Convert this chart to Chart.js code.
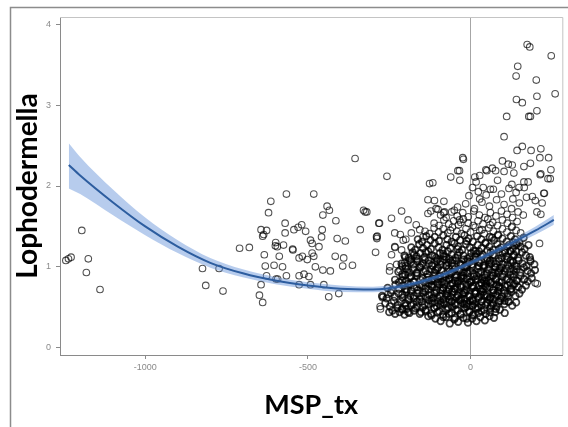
<!DOCTYPE html>
<html>
<head>
<meta charset="utf-8">
<script src="https://cdn.jsdelivr.net/npm/chart.js@4.4.1/dist/chart.umd.min.js"></script>
<style>
  html, body { margin: 0; padding: 0; background: #fff; }
  #wrap { width: 568px; height: 427px; }
</style>
</head>
<body>
<div id="wrap"><canvas id="chart" width="568" height="427"></canvas></div>
<script>
// tick labels
const xTicks = [-1000, -500, 0];
const yTicks = [0, 1, 2, 3, 4];

// fitted curve with its confidence band
const fitX    = [-1235, -1200, -1100, -1000, -900, -800, -700, -600, -500, -400, -300, -200, -100, 0, 100, 200, 256];
const fitY    = [2.26, 2.13, 1.80, 1.50, 1.25, 1.05, 0.92, 0.83, 0.77, 0.73, 0.72, 0.77, 0.88, 1.05, 1.24, 1.45, 1.58];
const fitLow  = [1.97, 1.90, 1.64, 1.39, 1.17, 0.99, 0.87, 0.785, 0.73, 0.69, 0.685, 0.74, 0.85, 1.02, 1.205, 1.40, 1.52];
const fitHigh = [2.53, 2.36, 1.96, 1.61, 1.33, 1.11, 0.97, 0.875, 0.81, 0.77, 0.755, 0.80, 0.91, 1.08, 1.275, 1.50, 1.64];

// observations [MSP_tx, Lophodermella]
const farLeftPts = [[-1244,1.08],[-1236,1.10],[-1228,1.12],[-1195,1.45],[-1175,1.10],[-1181,0.93],[-1139,0.72],
  [-824,0.98],[-773,0.98],[-814,0.77],[-761,0.70],[-710,1.23],[-680,1.24]];

const midPts = [[-614,1.81],[-566,1.90],[-482,1.90],[-621,1.67],[-570,1.54],[-441,1.75],[-434,1.70],[-454,1.64],
  [-414,1.57],[-355,2.34],[-329,1.70],[-319,1.68],[-339,1.46],[-289,1.37],[-644,1.46],[-627,1.45],[-639,1.38],
  [-599,1.30],[-594,1.25],[-634,1.15],[-588,1.13],[-570,1.42],[-543,1.46],[-530,1.49],[-519,1.52],[-507,1.44],
  [-492,1.33],[-487,1.29],[-466,1.25],[-456,1.46],[-458,1.37],[-410,1.35],[-385,1.32],[-546,1.21],[-527,1.11],
  [-517,1.13],[-502,1.09],[-487,1.17],[-482,1.13],[-416,1.13],[-390,1.11],[-393,1.01],[-363,1.02],[-477,1.00],
  [-454,0.96],[-431,0.95],[-631,1.01],[-604,1.02],[-578,1.00],[-627,0.89],[-598,0.85],[-566,0.89],[-527,0.89],
  [-512,0.91],[-497,0.88],[-644,0.78],[-593,0.85],[-527,0.78],[-492,0.78],[-451,0.78],[-649,0.65],[-639,0.56],
  [-436,0.63],[-405,0.67],[-292,1.18],[-575,1.27],[-547,1.22],[-600,1.26],[-636,1.40]];

const nearPts = [[-257,2.12],[-126,2.03],[-116,2.04],[-324,1.68],[-212,1.69],[-131,1.83],[-82,1.81],[-280,1.54],
  [-243,1.60],[-287,1.38],[-233,1.42],[-207,1.33],[-182,1.42],[-156,1.46],[-146,1.37],[-192,1.58],[-167,1.52],
  [-131,1.66],[-106,1.72],[-80,1.68],[-50,1.70],[-34,1.58],[-233,1.25],[-212,1.21],[-243,1.15],[-248,1.00],
  [-217,0.96],[-202,1.05],[-182,1.09],[-268,0.63],[-278,0.51],[-243,0.55],[-271,0.62],[-277,0.48],[-254,0.66],
  [-249,0.95],[-227,1.03],[-216,1.40],[-199,1.34],[-111,1.82],[-122,1.69],[-83,1.67],[-100,1.71],[-39,2.19],
  [-22,2.33],[-33,2.07],[-61,2.11],[-288,1.35],[-232,1.24],[-282,1.54]];

const upperPts = [[174,3.75],[182,3.72],[248,3.61],[145,3.48],[140,3.36],[202,3.31],[260,3.14],[204,3.11],
  [141,3.07],[159,3.03],[204,2.93],[184,2.86],[179,2.86],[111,2.86],[103,2.61],[159,2.49],[143,2.44],[186,2.44],
  [216,2.46],[240,2.35],[213,2.35],[98,2.31],[128,2.26],[164,2.24],[184,2.28],[-24,2.35],[-34,2.19],[47,2.20],
  [67,2.22],[103,2.18],[133,2.16],[13,2.11],[247,2.20],[214,2.14],[245,2.09],[164,2.05],[225,1.91],[204,1.68],
  [220,1.79],[212,1.29],[184,1.09],[199,0.80],[164,0.84],[143,0.76],[118,0.57],[227,1.91],[199,1.82],[216,1.65],
  [177,2.05],[149,1.98],[127,2.02],[83,2.07],[61,1.96],[28,1.84],[39,1.98],[6,1.98],[17,2.05],[28,2.13],
  [50,2.19],[77,2.19],[116,2.27],[205,0.79],[238,2.09],[216,2.15]];

const clusterLow = [[-108,0.36],[-92,0.33],[-75,0.38],[-64,0.30],[-50,0.35],[-38,0.32],[-22,0.37],[-8,0.31],
  [5,0.36],[18,0.33],[30,0.38],[44,0.34],[58,0.39],[-130,0.39],[72,0.37],
  [-240,0.46],[-232,0.42],[-225,0.49],[-218,0.44],[-210,0.47],[-203,0.41],[-196,0.48],[-188,0.43],[-170,0.49],
  [-152,0.44],[-138,0.47],[-121,0.42],[-112,0.49],[-97,0.45],[-85,0.41],[-70,0.48],[-58,0.43],[-45,0.47],
  [-31,0.42],[-17,0.49],[-4,0.44],[9,0.41],[21,0.48],[34,0.45],[47,0.42],[61,0.49],[76,0.44],[90,0.47],
  [105,0.43],[-250,0.44],
  [-262,0.55],[-248,0.51],[-236,0.58],[-224,0.53],[-214,0.57],[-200,0.52],[-190,0.59],[-176,0.54],[-165,0.51],
  [-150,0.57],[-141,0.53],[-128,0.59],[-117,0.55],[-104,0.51],[-93,0.58],[-81,0.54],[-69,0.50],[-57,0.57],
  [-46,0.53],[-35,0.59],[-24,0.55],[-12,0.51],[-2,0.58],[11,0.54],[23,0.50],[35,0.57],[46,0.53],[57,0.59],
  [68,0.55],[80,0.51],[92,0.58],[104,0.54],[116,0.57],[128,0.52],[140,0.56],[-18,0.60],[6,0.52],[63,0.52]];

const clusterMid = [[-272,0.64],[-258,0.61],[-245,0.68],[-233,0.63],[-221,0.67],[-209,0.62],[-197,0.69],
  [-185,0.64],[-174,0.61],[-162,0.67],[-151,0.63],[-139,0.69],[-127,0.65],[-116,0.61],[-105,0.68],[-94,0.64],
  [-83,0.60],[-72,0.67],[-61,0.63],[-50,0.69],[-39,0.65],[-28,0.61],[-17,0.68],[-6,0.64],[5,0.60],[16,0.67],
  [27,0.63],[38,0.69],[49,0.65],[60,0.61],[71,0.68],[82,0.64],[93,0.61],[104,0.67],[115,0.63],[126,0.69],
  [138,0.64],[150,0.67],[-44,0.62],[31,0.66],
  [-255,0.74],[-243,0.71],[-231,0.78],[-220,0.73],[-208,0.77],[-196,0.72],[-185,0.79],[-173,0.74],[-162,0.71],
  [-150,0.77],[-139,0.73],[-128,0.79],[-117,0.75],[-106,0.71],[-95,0.78],[-84,0.74],[-73,0.70],[-62,0.77],
  [-51,0.73],[-40,0.79],[-29,0.75],[-18,0.71],[-7,0.78],[4,0.74],[15,0.70],[26,0.77],[37,0.73],[48,0.79],
  [59,0.75],[70,0.71],[81,0.78],[92,0.74],[103,0.71],[114,0.77],[125,0.73],[136,0.79],[147,0.75],[158,0.72],
  [170,0.77],[-66,0.72],[9,0.76],[88,0.76],
  [-232,0.84],[-220,0.81],[-209,0.88],[-198,0.83],[-187,0.87],[-176,0.82],[-165,0.89],[-154,0.84],[-143,0.81],
  [-132,0.87],[-121,0.83],[-110,0.89],[-99,0.85],[-88,0.81],[-77,0.88],[-66,0.84],[-55,0.80],[-44,0.87],
  [-33,0.83],[-22,0.89],[-11,0.85],[0,0.81],[11,0.88],[22,0.84],[33,0.80],[44,0.87],[55,0.83],[66,0.89],
  [77,0.85],[88,0.81],[99,0.88],[110,0.84],[121,0.81],[132,0.87],[143,0.83],[154,0.89],[165,0.85],[176,0.82],
  [188,0.86],[-100,0.82],[-27,0.86],[48,0.82],
  [-222,0.94],[-210,0.91],[-199,0.98],[-188,0.93],[-177,0.97],[-166,0.92],[-155,0.99],[-144,0.94],[-133,0.91],
  [-122,0.97],[-111,0.93],[-100,0.99],[-89,0.95],[-78,0.91],[-67,0.98],[-56,0.94],[-45,0.90],[-34,0.97],
  [-23,0.93],[-12,0.99],[-1,0.95],[10,0.91],[21,0.98],[32,0.94],[43,0.90],[54,0.97],[65,0.93],[76,0.99],
  [87,0.95],[98,0.91],[109,0.98],[120,0.94],[131,0.91],[142,0.97],[153,0.93],[164,0.99],[175,0.95],[186,0.92],
  [198,0.96],[-60,0.92]];

const clusterHigh = [[-212,1.04],[-200,1.01],[-188,1.08],[-176,1.03],[-164,1.07],[-152,1.02],[-140,1.09],
  [-128,1.04],[-116,1.01],[-104,1.07],[-92,1.03],[-80,1.09],[-68,1.05],[-56,1.01],[-44,1.08],[-32,1.04],
  [-20,1.00],[-8,1.07],[4,1.03],[16,1.09],[28,1.05],[40,1.01],[52,1.08],[64,1.04],[76,1.00],[88,1.07],
  [100,1.03],[112,1.09],[124,1.05],[136,1.01],[148,1.08],[160,1.04],[172,1.01],[184,1.07],[196,1.03],
  [-26,1.02],[58,1.06],[130,1.06],
  [-203,1.14],[-190,1.11],[-178,1.18],[-166,1.13],[-154,1.17],[-142,1.12],[-130,1.19],[-118,1.14],[-106,1.11],
  [-94,1.17],[-82,1.13],[-70,1.19],[-58,1.15],[-46,1.11],[-34,1.18],[-22,1.14],[-10,1.10],[2,1.17],[14,1.13],
  [26,1.19],[38,1.15],[50,1.11],[62,1.18],[74,1.14],[86,1.10],[98,1.17],[110,1.13],[122,1.19],[134,1.15],
  [146,1.11],[158,1.18],[170,1.14],[182,1.12],[-75,1.12],[18,1.16],
  [-182,1.24],[-170,1.21],[-158,1.28],[-146,1.23],[-134,1.27],[-122,1.22],[-110,1.29],[-98,1.24],[-86,1.21],
  [-74,1.27],[-62,1.23],[-50,1.29],[-38,1.25],[-26,1.21],[-14,1.28],[-2,1.24],[10,1.20],[22,1.27],[34,1.23],
  [46,1.29],[58,1.25],[70,1.21],[82,1.28],[94,1.24],[106,1.20],[118,1.27],[130,1.23],[142,1.29],[154,1.25],
  [166,1.22],[178,1.27],[-40,1.22],
  [-162,1.34],[-149,1.31],[-136,1.38],[-123,1.33],[-110,1.37],[-97,1.32],[-84,1.39],[-71,1.34],[-58,1.31],
  [-45,1.37],[-32,1.33],[-19,1.39],[-6,1.35],[7,1.31],[20,1.38],[33,1.34],[46,1.30],[59,1.37],[72,1.33],
  [85,1.39],[98,1.35],[111,1.31],[124,1.38],[137,1.34],[150,1.30],[163,1.36],[-12,1.32],[66,1.36]];

const clusterTop = [[-140,1.44],[-126,1.41],[-112,1.48],[-98,1.43],[-84,1.47],[-70,1.42],[-56,1.49],[-42,1.44],
  [-28,1.41],[-14,1.47],[0,1.43],[14,1.49],[28,1.45],[42,1.41],[56,1.48],[70,1.44],[84,1.40],[98,1.47],
  [112,1.43],[126,1.49],[140,1.45],[154,1.42],[-62,1.45],[35,1.46],
  [-112,1.54],[-97,1.51],[-82,1.58],[-67,1.53],[-52,1.57],[-37,1.52],[-22,1.59],[-7,1.54],[8,1.51],[23,1.57],
  [38,1.53],[53,1.59],[68,1.55],[83,1.51],[98,1.58],[113,1.54],[128,1.50],[143,1.56],[-30,1.55],[60,1.52],
  [-92,1.64],[-75,1.61],[-58,1.68],[-41,1.63],[-24,1.67],[-7,1.62],[10,1.69],[27,1.64],[44,1.61],[61,1.67],
  [78,1.63],[95,1.69],[112,1.65],[129,1.61],[146,1.68],[162,1.64],
  [-40,1.74],[-15,1.78],[12,1.72],[35,1.80],[58,1.75],[80,1.83],[103,1.77],[126,1.72],[150,1.79],[172,1.86],
  [-5,1.88],[24,1.93],[48,1.89],[70,1.96],[95,1.90],[118,1.97],[140,1.92],[165,1.98],[190,1.87],[130,1.84]];

const clusterCore = [[-115,0.62],[-98,0.88],[-86,0.71],[-73,1.02],[-59,0.57],[-47,0.83],[-36,0.95],[-25,0.66],
  [-13,0.77],[-3,1.06],[8,0.58],[19,0.89],[29,0.72],[41,0.99],[52,0.63],[64,0.81],[75,0.93],[-108,0.96],
  [-91,0.55],[-66,0.86],[-41,0.74],[-19,0.54],[-9,0.92],[14,0.69],[36,0.85],[57,1.03],[70,0.60],[-80,0.79],
  [-55,1.08],[-30,0.88],[2,0.82],[25,1.01],[46,0.76],[-120,0.78],[-102,1.09],[84,0.70],[90,0.98],[-70,0.64],
  [-16,1.00],[33,0.57]];

const clusterDense = [
  [-210,0.48],[-210,0.66],[-210,0.83],[-210,1.01],[-201,0.55],[-201,0.72],[-201,0.90],[-201,1.12],
  [-192,0.44],[-192,0.61],[-192,0.79],[-192,0.97],[-183,0.52],[-183,0.70],[-183,0.88],[-183,1.06],
  [-174,0.46],[-174,0.64],[-174,0.81],[-174,1.15],[-165,0.57],[-165,0.75],[-165,0.93],[-165,1.10],
  [-156,0.42],[-156,0.60],[-156,0.78],[-156,1.00],[-147,0.50],[-147,0.68],[-147,0.86],[-147,1.04],
  [-138,0.45],[-138,0.63],[-138,0.95],[-138,1.18],[-129,0.54],[-129,0.72],[-129,0.84],[-129,1.08],
  [-120,0.40],[-120,0.58],[-120,0.76],[-120,1.02],[-111,0.49],[-111,0.67],[-111,0.85],[-111,1.13],
  [-102,0.44],[-102,0.62],[-102,0.80],[-102,0.98],[-93,0.53],[-93,0.71],[-93,0.89],[-93,1.07],
  [-84,0.38],[-84,0.56],[-84,0.74],[-84,1.16],[-75,0.47],[-75,0.65],[-75,0.83],[-75,1.01],
  [-66,0.42],[-66,0.60],[-66,0.90],[-66,1.10],[-57,0.51],[-57,0.69],[-57,0.79],[-57,1.05],
  [-48,0.37],[-48,0.55],[-48,0.73],[-48,0.97],[-39,0.46],[-39,0.64],[-39,0.82],[-39,1.14],
  [-30,0.41],[-30,0.59],[-30,0.77],[-30,1.03],[-21,0.50],[-21,0.68],[-21,0.86],[-21,1.09],
  [-12,0.36],[-12,0.54],[-12,0.72],[-12,0.94],[-3,0.45],[-3,0.63],[-3,0.81],[-3,1.12],
  [6,0.40],[6,0.58],[6,0.76],[6,1.00],[15,0.49],[15,0.67],[15,0.85],[15,1.19],
  [24,0.43],[24,0.61],[24,0.93],[24,1.07],[33,0.52],[33,0.70],[33,0.80],[33,1.13],
  [42,0.47],[42,0.65],[42,0.83],[42,1.02],[51,0.56],[51,0.74],[51,0.92],[51,1.20],
  [60,0.44],[60,0.62],[60,0.80],[60,1.08],[69,0.53],[69,0.71],[69,0.89],[69,1.15],
  [78,0.48],[78,0.66],[78,0.84],[78,1.04],[87,0.57],[87,0.75],[87,0.93],[87,1.22],
  [96,0.63],[96,0.81],[96,0.99],[96,1.11],[105,0.58],[105,0.76],[105,0.94],[105,1.18],
  [114,0.67],[114,0.85],[114,1.03],[114,1.25],[123,0.72],[123,0.90],[123,1.08],[123,1.20],
  [132,0.78],[132,0.96],[132,1.14],[132,1.30],[141,0.83],[141,1.01],[141,1.19],[141,1.27]];

const sparsePts = [].concat(farLeftPts, midPts, nearPts, upperPts, clusterTop);
const densePts = [].concat(clusterLow, clusterMid, clusterHigh, clusterCore, clusterDense);
const toXY = arr => arr.map(p => ({ x: p[0], y: p[1] }));
const fitPts = (ys) => fitX.map((x, i) => ({ x: x, y: ys[i] }));

const framePlugin = {
  id: "frame",
  afterDraw(chart) {
    const ctx = chart.ctx;
    const a = chart.chartArea;
    ctx.save();
    // panel outline (top/right)
    ctx.strokeStyle = "#c4c4c4";
    ctx.lineWidth = 1;
    ctx.beginPath();
    ctx.moveTo(a.left, a.top + 0.5);
    ctx.lineTo(a.right + 0.5, a.top + 0.5);
    ctx.lineTo(a.right + 0.5, a.bottom);
    ctx.stroke();
    // outer screenshot frame
    ctx.strokeStyle = "#8c8c8c";
    ctx.lineWidth = 1.5;
    ctx.beginPath();
    ctx.moveTo(568, 7.5);
    ctx.lineTo(10.5, 7.5);
    ctx.lineTo(10.5, 427);
    ctx.stroke();
    ctx.restore();
  }
};

new Chart(document.getElementById("chart").getContext("2d"), {
  type: "scatter",
  data: {
    datasets: [
      {
        label: "fit",
        data: fitPts(fitY),
        showLine: true,
        borderColor: "#2d5d9f",
        borderWidth: 2,
        pointRadius: 0,
        cubicInterpolationMode: "monotone",
        fill: false,
        order: 0
      },
      {
        label: "upper",
        data: fitPts(fitHigh),
        showLine: true,
        borderColor: "rgba(0,0,0,0)",
        borderWidth: 0,
        pointRadius: 0,
        cubicInterpolationMode: "monotone",
        backgroundColor: "rgba(96,142,214,0.45)",
        fill: "+1",
        order: 1
      },
      {
        label: "lower",
        data: fitPts(fitLow),
        showLine: true,
        borderColor: "rgba(0,0,0,0)",
        borderWidth: 0,
        pointRadius: 0,
        cubicInterpolationMode: "monotone",
        fill: false,
        order: 1
      },
      {
        label: "Lophodermella",
        data: toXY(sparsePts),
        pointRadius: 3.3,
        pointBorderWidth: 1.1,
        pointBorderColor: "rgba(0,0,0,0.68)",
        pointBackgroundColor: "rgba(0,0,0,0)",
        order: 2
      },
      {
        label: "Lophodermella (dense)",
        data: toXY(densePts),
        pointRadius: 3.3,
        pointBorderWidth: 1.7,
        pointBorderColor: "rgba(0,0,0,0.75)",
        pointBackgroundColor: "rgba(0,0,0,0)",
        order: 3
      }
    ]
  },
  options: {
    responsive: false,
    animation: false,
    devicePixelRatio: 1,
    layout: { padding: { top: 17, right: 3, left: 0, bottom: 0 } },
    plugins: {
      legend: { display: false },
      tooltip: { enabled: false }
    },
    scales: {
      x: {
        type: "linear",
        min: -1262,
        max: 282,
        afterBuildTicks: s => { s.ticks = xTicks.map(v => ({ value: v })); },
        afterFit: s => { s.height = 72; },
        ticks: {
          color: "#8a8a8a",
          font: { family: "Liberation Sans", size: 9 },
          padding: 3,
          maxRotation: 0,
          callback: v => String(v)
        },
        grid: {
          color: ctx => (ctx.tick && ctx.tick.value === 0) ? "#a6a6a6" : "rgba(0,0,0,0)",
          tickColor: "#8a8a8a",
          tickLength: 4
        },
        border: { color: "#8a8a8a", width: 1 },
        title: {
          display: true,
          text: "MSP_tx",
          color: "#000",
          font: { family: "Lato", weight: "bold", size: 27 },
          padding: { top: 0, bottom: 6 }
        }
      },
      y: {
        min: -0.09,
        max: 4.09,
        afterBuildTicks: s => { s.ticks = yTicks.map(v => ({ value: v })); },
        afterFit: s => { s.width = 60; },
        ticks: {
          color: "#8a8a8a",
          font: { family: "Liberation Sans", size: 9 },
          padding: 5,
          callback: v => String(v)
        },
        grid: {
          color: "rgba(0,0,0,0)",
          tickColor: "#8a8a8a",
          tickLength: 4
        },
        border: { color: "#8a8a8a", width: 1 },
        title: {
          display: true,
          text: "Lophodermella",
          color: "#000",
          font: { family: "Lato", weight: "bold", size: 28 },
          padding: { top: 11, bottom: 0 }
        }
      }
    }
  },
  plugins: [framePlugin]
});
</script>
</body>
</html>
